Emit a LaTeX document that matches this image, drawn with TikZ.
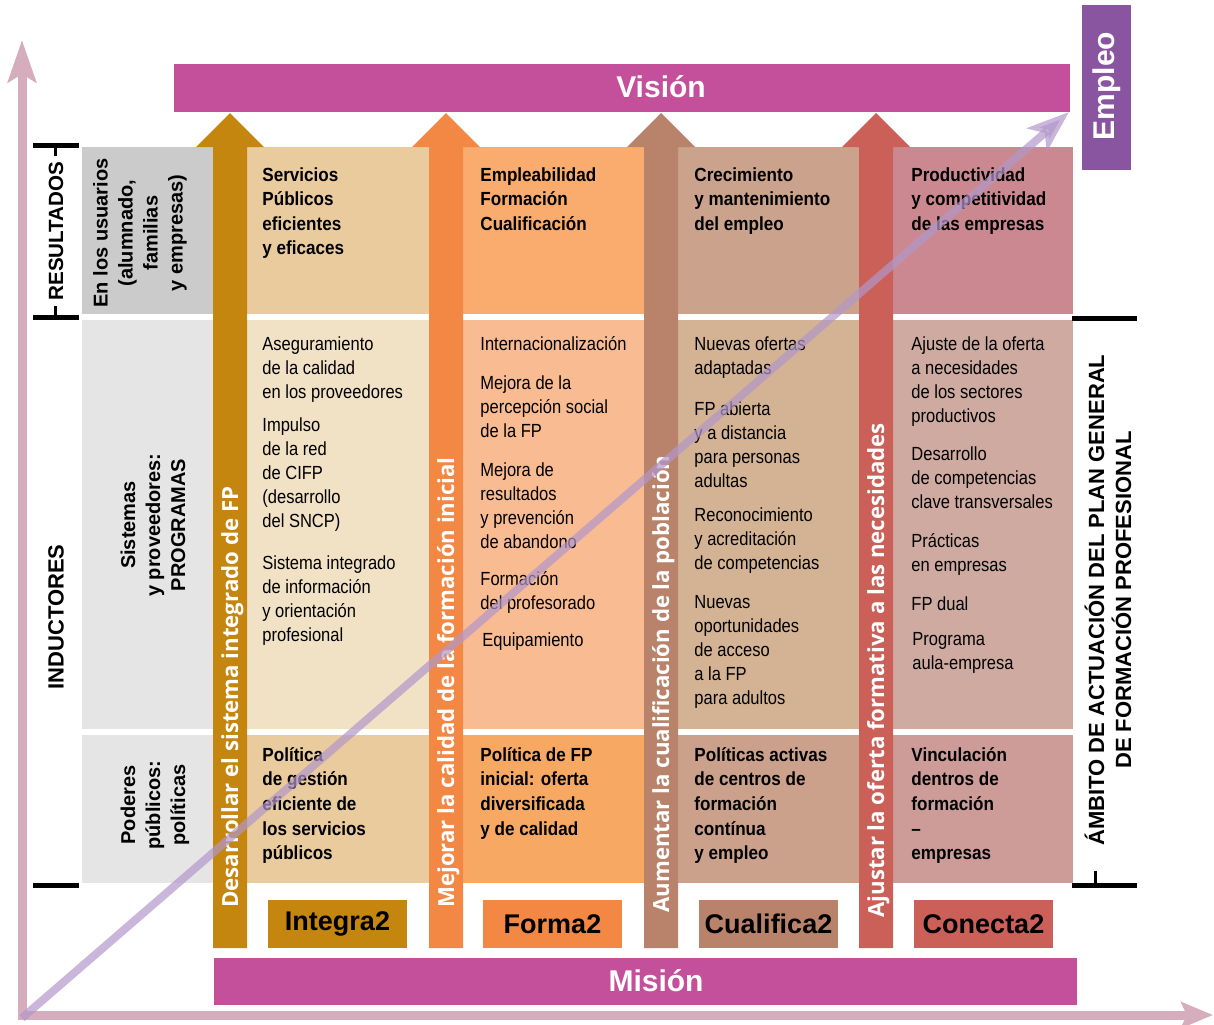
\documentclass[tikz,border=0pt]{standalone}
\usepackage{fontspec}
\setmainfont{Liberation Sans}
\newfontfamily\condfont[FakeStretch=0.87]{Liberation Sans}
\newfontfamily\condbold[FakeStretch=0.9]{Liberation Sans}
\newfontfamily\arrfont{Open Sans}
\usepackage{tikz}
\usetikzlibrary{arrows.meta}

\definecolor{vision}{HTML}{C44F9A}
\definecolor{empleo}{HTML}{8A55A0}
\definecolor{ejes}{HTML}{D6ADBC}
\definecolor{lila}{HTML}{B297CA}
\definecolor{grisA}{HTML}{CBCBCB}
\definecolor{grisB}{HTML}{E5E5E5}
\definecolor{ocre}{HTML}{C4860F}
\definecolor{ocreA}{HTML}{EACB9D}
\definecolor{ocreB}{HTML}{F1E1C5}
\definecolor{naranja}{HTML}{F38744}
\definecolor{naranjaA}{HTML}{F9AC6E}
\definecolor{naranjaB}{HTML}{F8BB92}
\definecolor{naranjaC}{HTML}{F7A963}
\definecolor{marron}{HTML}{B9826A}
\definecolor{marronA}{HTML}{CBA28B}
\definecolor{marronB}{HTML}{D3B393}
\definecolor{marronC}{HTML}{CCA18B}
\definecolor{rojo}{HTML}{CB6059}
\definecolor{rojoA}{HTML}{CC8890}
\definecolor{rojoB}{HTML}{CFAAA0}
\definecolor{rojoC}{HTML}{CD9C98}

\tikzset{
txt/.style={
  anchor=north west,
  align=left,
  inner sep=0pt,
  font=\condfont\fontsize{9.5}{12}\selectfont
  },
txtb/.style={
  txt,
  font=\condbold\bfseries\fontsize{9.5}{12.3}\selectfont
  },
lab/.style={
  rotate=90,
  align=center,
  inner sep=0pt,
  font=\bfseries\fontsize{10}{12.5}\selectfont
  },
brklab/.style={
  rotate=90,
  align=center,
  inner sep=0pt,
  font=\bfseries\fontsize{11}{13.5}\selectfont
  },
arr/.style={
  rotate=90,
  anchor=base west,
  inner sep=0pt,
  text=white,
  font=\arrfont\bfseries\fontsize{11.1}{12}\selectfont
  },
tagbox/.style={
  inner sep=0pt,
  font=\bfseries\fontsize{13.5}{14}\selectfont
  },
band/.style={
  inner sep=0pt,
  text=white,
  font=\bfseries\fontsize{15}{16}\selectfont
  },
brk/.style={line width=2.5pt},
axarrow/.style={
  line width=4.5pt,
  draw=ejes,
  -{Stealth[length=21pt,width=14pt,inset=4pt]}
  },
diag/.style={
  line width=4pt,
  draw=lila,
  draw opacity=0.7,
  fill opacity=0.7,
  -{Stealth[length=21pt,width=15pt,inset=5pt,fill=lila]}
  }
}

\begin{document}
\begin{tikzpicture}[x=0.5pt,y=-0.5pt]
    \useasboundingbox (0,0) rectangle (1214,1024);

    % ejes
    \coordinate (o)  at (22,1020);
    \coordinate (oy) at (22,40);
    \coordinate (ox0) at (18,1015);
    \coordinate (ox) at (1213,1015);
    \draw[axarrow] (o) -- (oy);
    \draw[axarrow,-{Stealth[length=16pt,width=13pt,inset=3pt]}] (ox0) -- (ox);

    % vision, mision, empleo
    \fill[vision] (174,64) rectangle (1070,112);
    \node[band] (vis) at (661,87) {Visión};
    \fill[vision] (214,958) rectangle (1077,1005);
    \node[band] (mis) at (656,981) {Misión};
    \fill[empleo] (1082,5) rectangle (1131,170);
    \node[band,rotate=90] (emp) at (1107,86) {Empleo};

    % columna gris
    \fill[grisA] (82,147) rectangle (213,314);
    \fill[grisB] (82,320) rectangle (213,729);
    \fill[grisB] (82,735) rectangle (213,883);
    \node[lab] (usu) at (140,233) {En los usuarios\\(alumnado,\\familias\\y empresas)};
    \node[lab] (sis) at (153,525) {Sistemas\\y proveedores:\\PROGRAMAS};
    \node[lab] (pod) at (155,805) {Poderes\\públicos:\\políticas};

    % celdas
    \fill[ocreA] (247,147) rectangle (429,314);
    \fill[ocreB] (247,320) rectangle (429,729);
    \fill[ocreA] (247,735) rectangle (429,883);
    \fill[naranjaA] (463,147) rectangle (644,314);
    \fill[naranjaB] (463,320) rectangle (644,729);
    \fill[naranjaC] (463,735) rectangle (644,883);
    \fill[marronA] (678,147) rectangle (859,314);
    \fill[marronB] (678,320) rectangle (859,729);
    \fill[marronC] (678,735) rectangle (859,883);
    \fill[rojoA] (893,147) rectangle (1073,314);
    \fill[rojoB] (893,320) rectangle (1073,729);
    \fill[rojoC] (893,735) rectangle (1073,883);

    % flechas verticales
    \fill[ocre] (213,948) -- (213,147) -- (196,147) -- (230,113) -- (264,147) -- (247,147) -- (247,948) -- cycle;
    \fill[naranja] (429,948) -- (429,147) -- (412,147) -- (446,113) -- (480,147) -- (463,147) -- (463,948) -- cycle;
    \fill[marron] (644,948) -- (644,147) -- (627,147) -- (661,113) -- (695,147) -- (678,147) -- (678,948) -- cycle;
    \fill[rojo] (859,948) -- (859,147) -- (842,147) -- (876,113) -- (910,147) -- (893,147) -- (893,948) -- cycle;
    \node[arr] (a1) at (238,908) {Desarrollar el sistema integrado de FP};
    \node[arr] (a2) at (454,908) {Mejorar la calidad de la formación inicial};
    \node[arr] (a3) at (669,913) {Aumentar la cualificación de la población};
    \node[arr] (a4) at (884,918) {Ajustar la oferta formativa a las necesidades};

    % etiquetas inferiores
    \fill[ocre] (268,900) rectangle (407,948);
    \node[tagbox] (t1) at (337.5,924) {Integra2};
    \fill[naranja] (483,900) rectangle (622,948);
    \node[tagbox] (t2) at (552.5,924) {Forma2};
    \fill[marron] (699,900) rectangle (838,948);
    \node[tagbox] (t3) at (768.5,924) {Cualifica2};
    \fill[rojo] (914,900) rectangle (1053,948);
    \node[tagbox] (t4) at (983.5,924) {Conecta2};

    % resultados
    \node[txtb] (r1) at (262,167) {Servicios\\Públicos\\eficientes\\y eficaces};
    \node[txtb] (r2) at (480,167) {Empleabilidad\\Formación\\Cualificación};
    \node[txtb] (r3) at (694,167) {Crecimiento\\y mantenimiento\\del empleo};
    \node[txtb] (r4) at (911,167) {Productividad\\y competitividad\\de las empresas};

    % programas
    \node[txt] (p1a) at (262,336) {Aseguramiento\\de la calidad\\en los proveedores};
    \node[txt] (p1b) at (262,417) {Impulso\\de la red\\de CIFP\\(desarrollo\\del SNCP)};
    \node[txt] (p1c) at (262,555) {Sistema integrado\\de información\\y orientación\\profesional};
    \node[txt] (p2a) at (480,336) {Internacionalización};
    \node[txt] (p2b) at (480,375) {Mejora de la\\percepción social\\de la FP};
    \node[txt] (p2c) at (480,462) {Mejora de\\resultados\\y prevención\\de abandono};
    \node[txt] (p2d) at (480,571) {Formación\\del profesorado};
    \node[txt] (p2e) at (482,632) {Equipamiento};
    \node[txt] (p3a) at (694,336) {Nuevas ofertas\\adaptadas};
    \node[txt] (p3b) at (694,401) {FP abierta\\y a distancia\\para personas\\adultas};
    \node[txt] (p3c) at (694,507) {Reconocimiento\\y acreditación\\de competencias};
    \node[txt] (p3d) at (694,595) {Nuevas\\oportunidades\\de acceso\\a la FP\\para adultos};
    \node[txt] (p4a) at (911,336) {Ajuste de la oferta\\a necesidades\\de los sectores\\productivos};
    \node[txt] (p4b) at (911,446) {Desarrollo\\de competencias\\clave transversales};
    \node[txt] (p4c) at (911,533) {Prácticas\\en empresas};
    \node[txt] (p4d) at (911,596) {FP dual};
    \node[txt] (p4e) at (912,632) {Programa\\aula-empresa};

    % politicas
    \node[txtb] (q1) at (262,747) {Política\\de gestión\\eficiente de\\los servicios\\públicos};
    \node[txtb] (q2) at (480,747) {Política de FP\\inicial: oferta\\diversificada\\y de calidad};
    \node[txtb] (q3) at (694,747) {Políticas activas\\de centros de\\formación\\contínua\\y empleo};
    \node[txtb] (q4) at (911,747) {Vinculación\\dentros de\\formación\\–\\empresas};

    % llaves
    \draw[brk] (33,145) -- (79,145);
    \draw[line width=1.5pt] (55,145) -- (55,156);
    \draw[brk] (33,317) -- (79,317);
    \draw[line width=1.5pt] (55,317) -- (55,306);
    \draw[brk] (33,885) -- (79,885);
    \node[brklab,font=\bfseries\fontsize{10.3}{12}\selectfont] (res) at (56,231) {RESULTADOS};
    \node[brklab] (ind) at (56,617) {INDUCTORES};
    \draw[brk] (1072,318) -- (1137,318);
    \draw[brk] (1072,885) -- (1137,885);
    \draw[line width=1.5pt] (1095,885) -- (1095,871);
    \node[brklab] (amb) at (1108,600) {ÁMBITO DE ACTUACIÓN DEL PLAN GENERAL\\DE FORMACIÓN PROFESIONAL};

    % diagonal
    \coordinate (d0) at (22,1018);
    \coordinate (d1) at (1069,112);
    \draw[diag] (d0) -- (d1);
\end{tikzpicture}
\end{document}
